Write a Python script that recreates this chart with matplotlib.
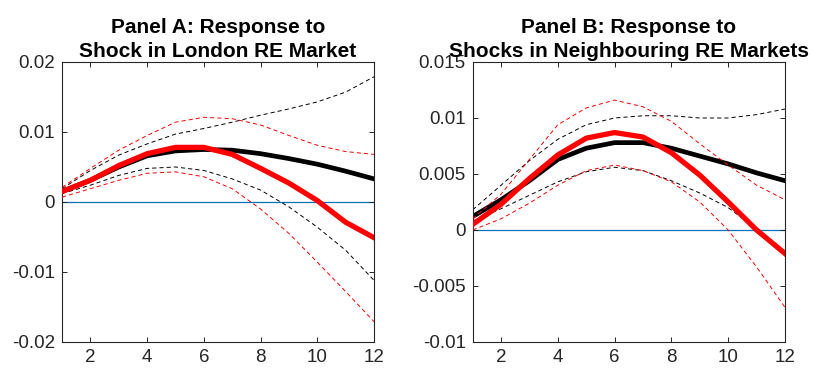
import numpy as np
import matplotlib
matplotlib.use('Agg')
import matplotlib.pyplot as plt
from matplotlib.ticker import FuncFormatter

plt.rcParams['font.family'] = ['Liberation Sans', 'DejaVu Sans']
plt.rcParams['lines.scale_dashes'] = False

horizon = np.arange(1, 13)

# Panel A: shock in London RE market
a_black = [0.0015, 0.0031, 0.0050, 0.0066, 0.0073, 0.0075, 0.0074, 0.0069, 0.0062, 0.0054, 0.0044, 0.0033]
a_black_hi = [0.0019, 0.0045, 0.0067, 0.0083, 0.0097, 0.0105, 0.0114, 0.0124, 0.0133, 0.0143, 0.0157, 0.0179]
a_black_lo = [0.0012, 0.0024, 0.0038, 0.0048, 0.0050, 0.0045, 0.0033, 0.0017, -0.0007, -0.0036, -0.0069, -0.0112]
a_red = [0.0015, 0.0031, 0.0052, 0.0069, 0.0078, 0.0078, 0.0068, 0.0048, 0.0027, 0.0002, -0.0029, -0.0051]
a_red_hi = [0.0021, 0.0048, 0.0074, 0.0095, 0.0114, 0.0121, 0.0119, 0.0110, 0.0095, 0.0081, 0.0072, 0.0068]
a_red_lo = [0.0007, 0.0019, 0.0031, 0.0041, 0.0043, 0.0036, 0.0019, -0.0010, -0.0045, -0.0086, -0.0128, -0.0171]

# Panel B: shocks in neighbouring RE markets
b_black = [0.0012, 0.0027, 0.0044, 0.0063, 0.0073, 0.0078, 0.0078, 0.0073, 0.0066, 0.0059, 0.0051, 0.0044]
b_black_hi = [0.0018, 0.0040, 0.0062, 0.0081, 0.0094, 0.0100, 0.0102, 0.0102, 0.0100, 0.0100, 0.0103, 0.0108]
b_black_lo = [0.0008, 0.0019, 0.0031, 0.0043, 0.0052, 0.0056, 0.0053, 0.0044, 0.0033, 0.0020, 0.0001, -0.0020]
b_red = [0.0005, 0.0023, 0.0046, 0.0067, 0.0082, 0.0087, 0.0083, 0.0069, 0.0049, 0.0025, 0.0000, -0.0021]
b_red_hi = [0.0010, 0.0032, 0.0063, 0.0094, 0.0109, 0.0116, 0.0110, 0.0097, 0.0077, 0.0058, 0.0040, 0.0027]
b_red_lo = [0.0000, 0.0010, 0.0024, 0.0040, 0.0053, 0.0058, 0.0053, 0.0043, 0.0025, 0.0000, -0.0033, -0.0069]

titles = ['Panel A: Response to\nShock in London RE Market',
          'Panel B: Response to\nShocks in Neighbouring RE Markets']
ylims = [(-0.02, 0.02), (-0.01, 0.015)]
yticks = [[-0.02, -0.01, 0, 0.01, 0.02], [-0.01, -0.005, 0, 0.005, 0.01, 0.015]]
xticks = [2, 4, 6, 8, 10, 12]

panels = [(a_black, a_black_hi, a_black_lo, a_red, a_red_hi, a_red_lo),
          (b_black, b_black_hi, b_black_lo, b_red, b_red_hi, b_red_lo)]

ax_col = '#262626'
dash = (0, (3.0, 2.2))

fig = plt.figure(figsize=(8.13, 3.71), dpi=100)
positions = [[0.0763, 0.0782, 0.3838, 0.7547], [0.5814, 0.0782, 0.3841, 0.7547]]

for k in range(2):
    ax = fig.add_axes(positions[k])
    blk, blk_hi, blk_lo, red, red_hi, red_lo = panels[k]

    ax.axhline(0, color='#0072BD', linewidth=0.9, zorder=1.5)
    ax.plot(horizon, blk, color='black', linewidth=3.4, zorder=2)
    ax.plot(horizon, blk_hi, color='black', linewidth=0.7, linestyle=dash, zorder=2.1)
    ax.plot(horizon, blk_lo, color='black', linewidth=0.7, linestyle=dash, zorder=2.1)
    ax.plot(horizon, red, color='#ff0000', linewidth=3.8, zorder=3)
    ax.plot(horizon, red_hi, color='#ff0000', linewidth=0.7, linestyle=dash, zorder=3.1)
    ax.plot(horizon, red_lo, color='#ff0000', linewidth=0.7, linestyle=dash, zorder=3.1)

    ax.set_xlim(1, 12)
    ax.set_ylim(*ylims[k])
    ax.set_xticks(xticks)
    ax.set_yticks(yticks[k])
    ax.yaxis.set_major_formatter(FuncFormatter(lambda v, p: '%g' % v))

    for s in ax.spines.values():
        s.set_color(ax_col)
        s.set_linewidth(0.8)
    ax.tick_params(direction='in', length=3.5, width=0.7, color=ax_col,
                   labelcolor=ax_col, labelsize=13.5, top=True, right=True)
    ax.tick_params(axis='y', pad=5)
    ax.tick_params(axis='x', pad=5)

    ax.set_title(titles[k], fontsize=15, fontweight='bold', pad=3.6, linespacing=1.3)

fig.savefig('out.png', dpi=100)
